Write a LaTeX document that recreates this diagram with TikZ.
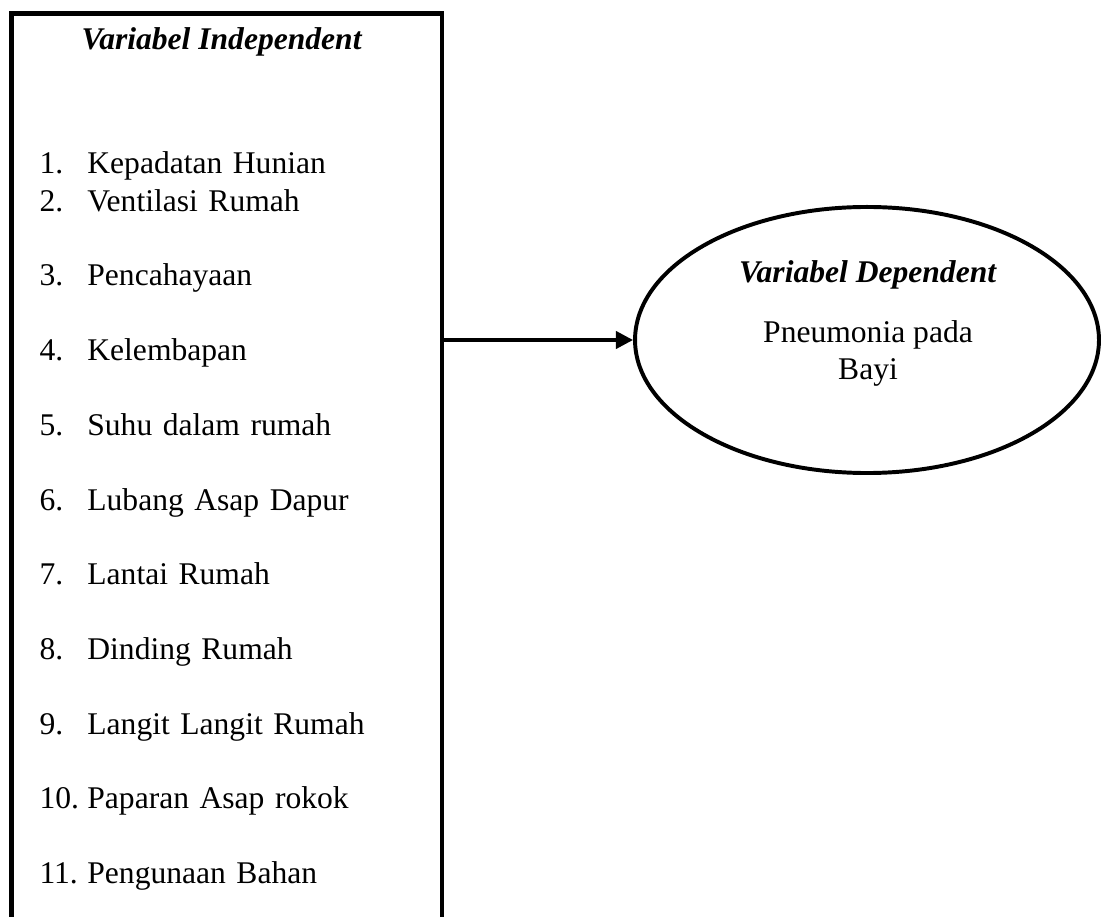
\documentclass[tikz,border=0pt]{standalone}
\usepackage{fontspec}
\setmainfont{Liberation Serif}
\usetikzlibrary{arrows.meta,positioning,shapes.geometric}
\tikzset{>/.tip={Triangle[length=6.5pt,width=6.5pt]}}
\tikzset{item/.style={text width=130pt,align=left,inner sep=0pt,text height=8.5pt,text depth=2.5pt}}
\newcommand{\itemno}[1]{\makebox[18.2pt][l]{#1}}

\begin{document}
\begin{tikzpicture}[x=0.38pt,y=-0.38pt,node distance=17pt,font=\fontsize{12pt}{13.8pt}\selectfont]
      \useasboundingbox (0,0) rectangle (1101,917);
      \clip (0,0) rectangle (1101,917);

      \node[draw,line width=1.8pt,minimum width=163.6pt,minimum height=360.6pt,anchor=north west,inner sep=0pt](indep) at (9,11){};
      \node[anchor=base](indeptitle) at (222,50){\textbf{\textit{Variabel Independent}}};

      \node[item,anchor=base west](it1) at (39,174){\itemno{1.}Kepadatan Hunian};
      \node[item,below=2.7pt of it1](it2){\itemno{2.}Ventilasi Rumah};
      \node[item,below=of it2](it3){\itemno{3.}Pencahayaan};
      \node[item,below=of it3](it4){\itemno{4.}Kelembapan};
      \node[item,below=of it4](it5){\itemno{5.}Suhu dalam rumah};
      \node[item,below=of it5](it6){\itemno{6.}Lubang Asap Dapur};
      \node[item,below=of it6](it7){\itemno{7.}Lantai Rumah};
      \node[item,below=of it7](it8){\itemno{8.}Dinding Rumah};
      \node[item,below=of it8](it9){\itemno{9.}Langit Langit Rumah};
      \node[item,below=of it9](it10){\itemno{10.}Paparan Asap rokok};
      \node[item,below=of it10](it11){\itemno{11.}Pengunaan Bahan};

      \node[ellipse,draw,line width=1.5pt,minimum width=176.3pt,minimum height=101.1pt,inner sep=0pt](dep) at (867,340){};
      \node[anchor=base](deptitle) at (868,283){\textbf{\textit{Variabel Dependent}}};
      \node[anchor=base](deptext) at (868,343){Pneumonia pada};
      \node[anchor=base](deptext2) at (868,380){Bayi};

      \draw[->,line width=1.4pt] (indep.east |- dep.west) -- (dep.west);
    \end{tikzpicture}
\end{document}
